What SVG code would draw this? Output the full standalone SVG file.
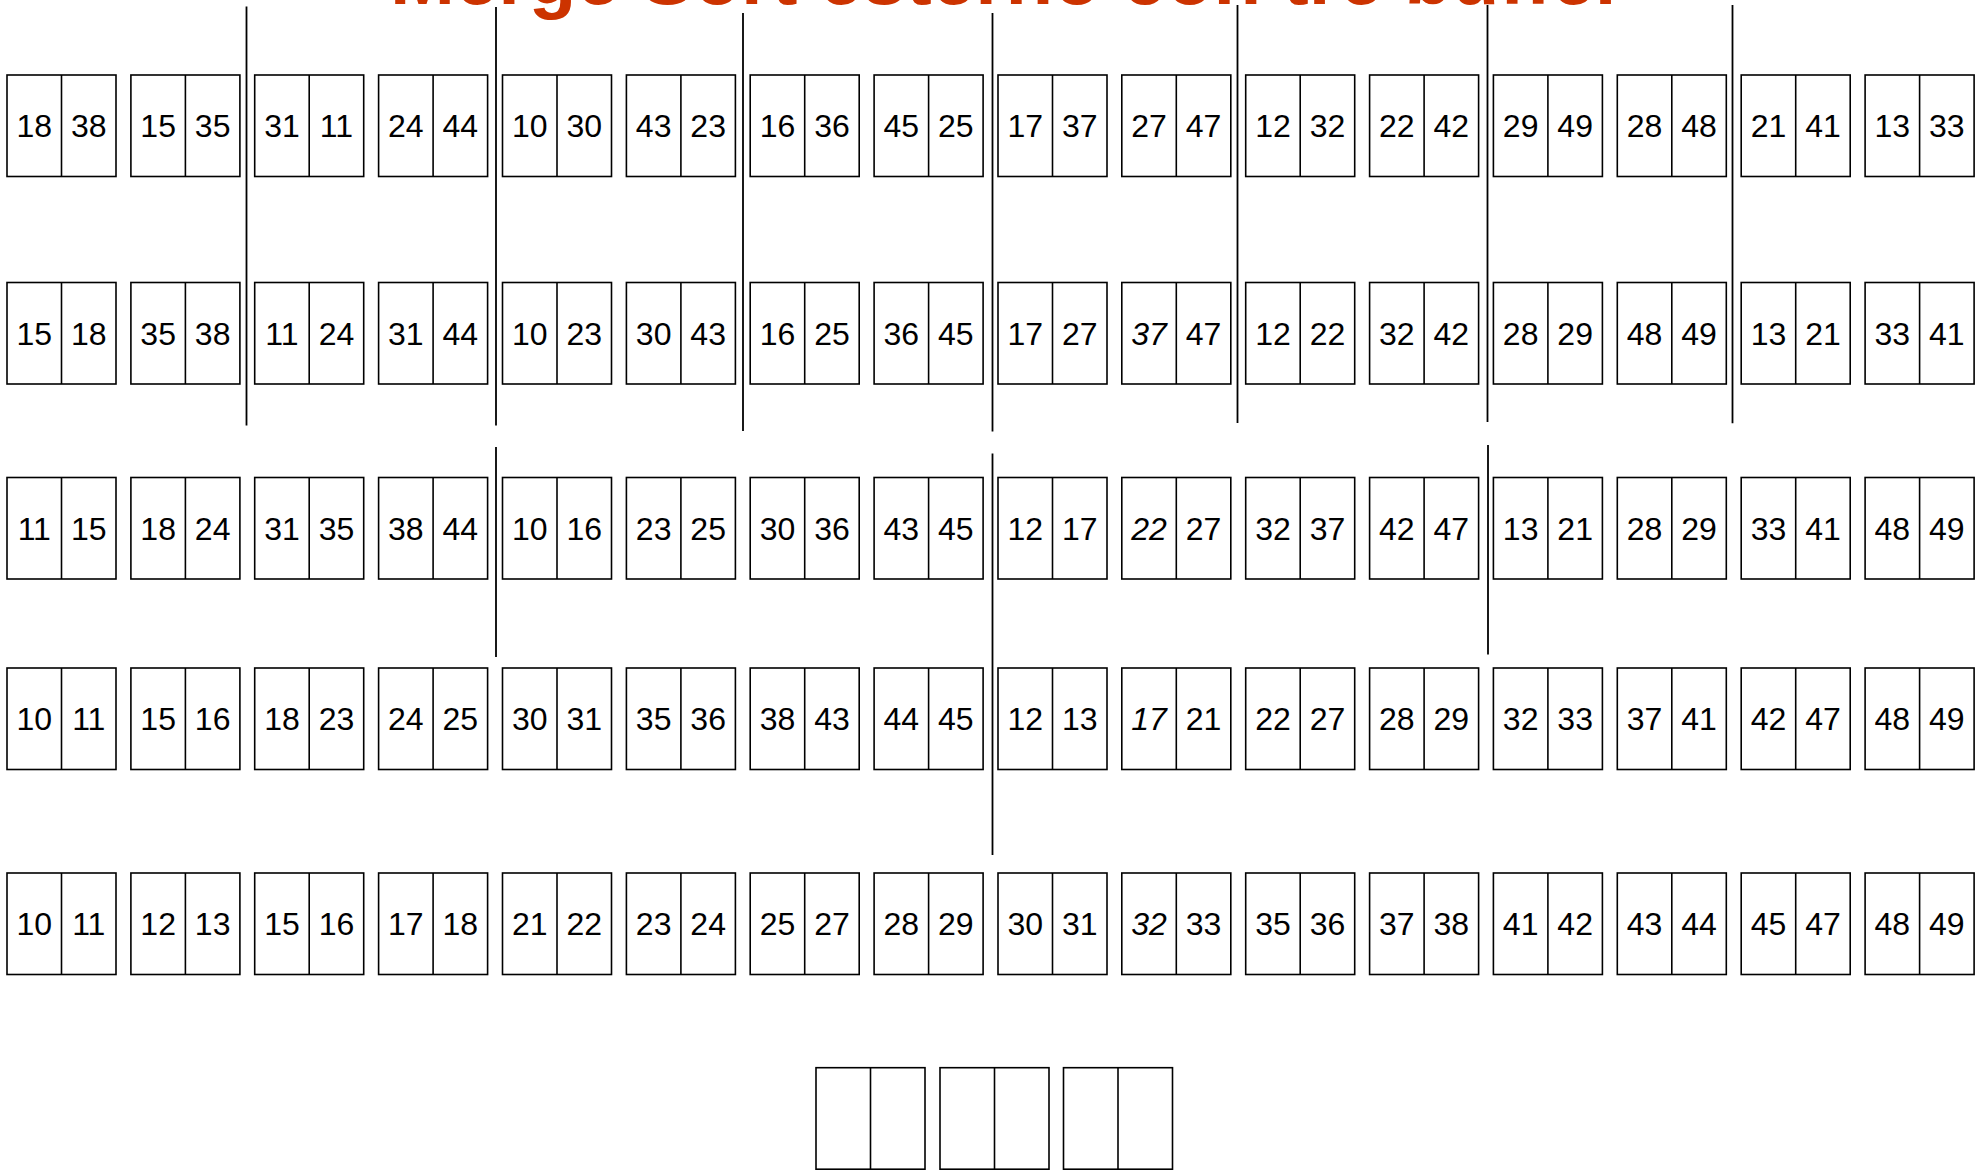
<svg xmlns="http://www.w3.org/2000/svg" xmlns:xlink="http://www.w3.org/1999/xlink" width="1981" height="1170" viewBox="0 0 1981 1170">
<style>
.f{fill:#fff;stroke:#000;stroke-width:1.6}
.d{stroke:#000;stroke-width:1.6}
.t{font-family:"Liberation Sans",Arial,sans-serif;font-size:32px;fill:#000;text-anchor:middle}
.i{font-style:italic}
.sep{stroke:#000;stroke-width:1.8;fill:none}
.title{font-family:"Liberation Sans",Arial,sans-serif;font-size:78px;font-weight:bold;fill:#CC3300}
</style>
<defs>
<g id="frame"><rect class="f" x="0" y="0" width="109" height="101.5"/><line class="d" x1="54.5" y1="0" x2="54.5" y2="101.5"/></g>
</defs>
<rect x="0" y="0" width="1981" height="1170" fill="#fff"/>
<text id="title" class="title" x="390" y="4">Merge Sort esterno con tre buffer</text>

<g id="connectors">
<line class="sep" x1="246.5" y1="6.5" x2="246.5" y2="425.5"/>
<line class="sep" x1="496" y1="7" x2="496" y2="425.5"/>
<line class="sep" x1="743" y1="13" x2="743" y2="431"/>
<line class="sep" x1="992.5" y1="13" x2="992.5" y2="431.5"/>
<line class="sep" x1="1237.5" y1="5" x2="1237.5" y2="423"/>
<line class="sep" x1="1487.5" y1="5" x2="1487.5" y2="422"/>
<line class="sep" x1="1732.5" y1="5" x2="1732.5" y2="423.3"/>
<line class="sep" x1="496" y1="447" x2="496" y2="657"/>
<line class="sep" x1="992.5" y1="453.5" x2="992.5" y2="855"/>
<line class="sep" x1="1488" y1="445" x2="1488" y2="654.5"/>
</g>

<!-- Row 1 -->
<g id="r1b1" transform="translate(7,75)"><use xlink:href="#frame"/><text class="t" x="27.25" y="62">18</text><text class="t" x="81.75" y="62">38</text></g>
<g id="r1b2" transform="translate(130.9,75)"><use xlink:href="#frame"/><text class="t" x="27.25" y="62">15</text><text class="t" x="81.75" y="62">35</text></g>
<g id="r1b3" transform="translate(254.7,75)"><use xlink:href="#frame"/><text class="t" x="27.25" y="62">31</text><text class="t" x="81.75" y="62">11</text></g>
<g id="r1b4" transform="translate(378.6,75)"><use xlink:href="#frame"/><text class="t" x="27.25" y="62">24</text><text class="t" x="81.75" y="62">44</text></g>
<g id="r1b5" transform="translate(502.5,75)"><use xlink:href="#frame"/><text class="t" x="27.25" y="62">10</text><text class="t" x="81.75" y="62">30</text></g>
<g id="r1b6" transform="translate(626.4,75)"><use xlink:href="#frame"/><text class="t" x="27.25" y="62">43</text><text class="t" x="81.75" y="62">23</text></g>
<g id="r1b7" transform="translate(750.2,75)"><use xlink:href="#frame"/><text class="t" x="27.25" y="62">16</text><text class="t" x="81.75" y="62">36</text></g>
<g id="r1b8" transform="translate(874.1,75)"><use xlink:href="#frame"/><text class="t" x="27.25" y="62">45</text><text class="t" x="81.75" y="62">25</text></g>
<g id="r1b9" transform="translate(998,75)"><use xlink:href="#frame"/><text class="t" x="27.25" y="62">17</text><text class="t" x="81.75" y="62">37</text></g>
<g id="r1b10" transform="translate(1121.8,75)"><use xlink:href="#frame"/><text class="t" x="27.25" y="62">27</text><text class="t" x="81.75" y="62">47</text></g>
<g id="r1b11" transform="translate(1245.7,75)"><use xlink:href="#frame"/><text class="t" x="27.25" y="62">12</text><text class="t" x="81.75" y="62">32</text></g>
<g id="r1b12" transform="translate(1369.6,75)"><use xlink:href="#frame"/><text class="t" x="27.25" y="62">22</text><text class="t" x="81.75" y="62">42</text></g>
<g id="r1b13" transform="translate(1493.4,75)"><use xlink:href="#frame"/><text class="t" x="27.25" y="62">29</text><text class="t" x="81.75" y="62">49</text></g>
<g id="r1b14" transform="translate(1617.3,75)"><use xlink:href="#frame"/><text class="t" x="27.25" y="62">28</text><text class="t" x="81.75" y="62">48</text></g>
<g id="r1b15" transform="translate(1741.2,75)"><use xlink:href="#frame"/><text class="t" x="27.25" y="62">21</text><text class="t" x="81.75" y="62">41</text></g>
<g id="r1b16" transform="translate(1865.1,75)"><use xlink:href="#frame"/><text class="t" x="27.25" y="62">13</text><text class="t" x="81.75" y="62">33</text></g>

<!-- Row 2 -->
<g id="r2b1" transform="translate(7,282.5)"><use xlink:href="#frame"/><text class="t" x="27.25" y="62">15</text><text class="t" x="81.75" y="62">18</text></g>
<g id="r2b2" transform="translate(130.9,282.5)"><use xlink:href="#frame"/><text class="t" x="27.25" y="62">35</text><text class="t" x="81.75" y="62">38</text></g>
<g id="r2b3" transform="translate(254.7,282.5)"><use xlink:href="#frame"/><text class="t" x="27.25" y="62">11</text><text class="t" x="81.75" y="62">24</text></g>
<g id="r2b4" transform="translate(378.6,282.5)"><use xlink:href="#frame"/><text class="t" x="27.25" y="62">31</text><text class="t" x="81.75" y="62">44</text></g>
<g id="r2b5" transform="translate(502.5,282.5)"><use xlink:href="#frame"/><text class="t" x="27.25" y="62">10</text><text class="t" x="81.75" y="62">23</text></g>
<g id="r2b6" transform="translate(626.4,282.5)"><use xlink:href="#frame"/><text class="t" x="27.25" y="62">30</text><text class="t" x="81.75" y="62">43</text></g>
<g id="r2b7" transform="translate(750.2,282.5)"><use xlink:href="#frame"/><text class="t" x="27.25" y="62">16</text><text class="t" x="81.75" y="62">25</text></g>
<g id="r2b8" transform="translate(874.1,282.5)"><use xlink:href="#frame"/><text class="t" x="27.25" y="62">36</text><text class="t" x="81.75" y="62">45</text></g>
<g id="r2b9" transform="translate(998,282.5)"><use xlink:href="#frame"/><text class="t" x="27.25" y="62">17</text><text class="t" x="81.75" y="62">27</text></g>
<g id="r2b10" transform="translate(1121.8,282.5)"><use xlink:href="#frame"/><text class="t i" x="27.25" y="62">37</text><text class="t" x="81.75" y="62">47</text></g>
<g id="r2b11" transform="translate(1245.7,282.5)"><use xlink:href="#frame"/><text class="t" x="27.25" y="62">12</text><text class="t" x="81.75" y="62">22</text></g>
<g id="r2b12" transform="translate(1369.6,282.5)"><use xlink:href="#frame"/><text class="t" x="27.25" y="62">32</text><text class="t" x="81.75" y="62">42</text></g>
<g id="r2b13" transform="translate(1493.4,282.5)"><use xlink:href="#frame"/><text class="t" x="27.25" y="62">28</text><text class="t" x="81.75" y="62">29</text></g>
<g id="r2b14" transform="translate(1617.3,282.5)"><use xlink:href="#frame"/><text class="t" x="27.25" y="62">48</text><text class="t" x="81.75" y="62">49</text></g>
<g id="r2b15" transform="translate(1741.2,282.5)"><use xlink:href="#frame"/><text class="t" x="27.25" y="62">13</text><text class="t" x="81.75" y="62">21</text></g>
<g id="r2b16" transform="translate(1865.1,282.5)"><use xlink:href="#frame"/><text class="t" x="27.25" y="62">33</text><text class="t" x="81.75" y="62">41</text></g>

<!-- Row 3 -->
<g id="r3b1" transform="translate(7,477.5)"><use xlink:href="#frame"/><text class="t" x="27.25" y="62">11</text><text class="t" x="81.75" y="62">15</text></g>
<g id="r3b2" transform="translate(130.9,477.5)"><use xlink:href="#frame"/><text class="t" x="27.25" y="62">18</text><text class="t" x="81.75" y="62">24</text></g>
<g id="r3b3" transform="translate(254.7,477.5)"><use xlink:href="#frame"/><text class="t" x="27.25" y="62">31</text><text class="t" x="81.75" y="62">35</text></g>
<g id="r3b4" transform="translate(378.6,477.5)"><use xlink:href="#frame"/><text class="t" x="27.25" y="62">38</text><text class="t" x="81.75" y="62">44</text></g>
<g id="r3b5" transform="translate(502.5,477.5)"><use xlink:href="#frame"/><text class="t" x="27.25" y="62">10</text><text class="t" x="81.75" y="62">16</text></g>
<g id="r3b6" transform="translate(626.4,477.5)"><use xlink:href="#frame"/><text class="t" x="27.25" y="62">23</text><text class="t" x="81.75" y="62">25</text></g>
<g id="r3b7" transform="translate(750.2,477.5)"><use xlink:href="#frame"/><text class="t" x="27.25" y="62">30</text><text class="t" x="81.75" y="62">36</text></g>
<g id="r3b8" transform="translate(874.1,477.5)"><use xlink:href="#frame"/><text class="t" x="27.25" y="62">43</text><text class="t" x="81.75" y="62">45</text></g>
<g id="r3b9" transform="translate(998,477.5)"><use xlink:href="#frame"/><text class="t" x="27.25" y="62">12</text><text class="t" x="81.75" y="62">17</text></g>
<g id="r3b10" transform="translate(1121.8,477.5)"><use xlink:href="#frame"/><text class="t i" x="27.25" y="62">22</text><text class="t" x="81.75" y="62">27</text></g>
<g id="r3b11" transform="translate(1245.7,477.5)"><use xlink:href="#frame"/><text class="t" x="27.25" y="62">32</text><text class="t" x="81.75" y="62">37</text></g>
<g id="r3b12" transform="translate(1369.6,477.5)"><use xlink:href="#frame"/><text class="t" x="27.25" y="62">42</text><text class="t" x="81.75" y="62">47</text></g>
<g id="r3b13" transform="translate(1493.4,477.5)"><use xlink:href="#frame"/><text class="t" x="27.25" y="62">13</text><text class="t" x="81.75" y="62">21</text></g>
<g id="r3b14" transform="translate(1617.3,477.5)"><use xlink:href="#frame"/><text class="t" x="27.25" y="62">28</text><text class="t" x="81.75" y="62">29</text></g>
<g id="r3b15" transform="translate(1741.2,477.5)"><use xlink:href="#frame"/><text class="t" x="27.25" y="62">33</text><text class="t" x="81.75" y="62">41</text></g>
<g id="r3b16" transform="translate(1865.1,477.5)"><use xlink:href="#frame"/><text class="t" x="27.25" y="62">48</text><text class="t" x="81.75" y="62">49</text></g>

<!-- Row 4 -->
<g id="r4b1" transform="translate(7,668)"><use xlink:href="#frame"/><text class="t" x="27.25" y="62">10</text><text class="t" x="81.75" y="62">11</text></g>
<g id="r4b2" transform="translate(130.9,668)"><use xlink:href="#frame"/><text class="t" x="27.25" y="62">15</text><text class="t" x="81.75" y="62">16</text></g>
<g id="r4b3" transform="translate(254.7,668)"><use xlink:href="#frame"/><text class="t" x="27.25" y="62">18</text><text class="t" x="81.75" y="62">23</text></g>
<g id="r4b4" transform="translate(378.6,668)"><use xlink:href="#frame"/><text class="t" x="27.25" y="62">24</text><text class="t" x="81.75" y="62">25</text></g>
<g id="r4b5" transform="translate(502.5,668)"><use xlink:href="#frame"/><text class="t" x="27.25" y="62">30</text><text class="t" x="81.75" y="62">31</text></g>
<g id="r4b6" transform="translate(626.4,668)"><use xlink:href="#frame"/><text class="t" x="27.25" y="62">35</text><text class="t" x="81.75" y="62">36</text></g>
<g id="r4b7" transform="translate(750.2,668)"><use xlink:href="#frame"/><text class="t" x="27.25" y="62">38</text><text class="t" x="81.75" y="62">43</text></g>
<g id="r4b8" transform="translate(874.1,668)"><use xlink:href="#frame"/><text class="t" x="27.25" y="62">44</text><text class="t" x="81.75" y="62">45</text></g>
<g id="r4b9" transform="translate(998,668)"><use xlink:href="#frame"/><text class="t" x="27.25" y="62">12</text><text class="t" x="81.75" y="62">13</text></g>
<g id="r4b10" transform="translate(1121.8,668)"><use xlink:href="#frame"/><text class="t i" x="27.25" y="62">17</text><text class="t" x="81.75" y="62">21</text></g>
<g id="r4b11" transform="translate(1245.7,668)"><use xlink:href="#frame"/><text class="t" x="27.25" y="62">22</text><text class="t" x="81.75" y="62">27</text></g>
<g id="r4b12" transform="translate(1369.6,668)"><use xlink:href="#frame"/><text class="t" x="27.25" y="62">28</text><text class="t" x="81.75" y="62">29</text></g>
<g id="r4b13" transform="translate(1493.4,668)"><use xlink:href="#frame"/><text class="t" x="27.25" y="62">32</text><text class="t" x="81.75" y="62">33</text></g>
<g id="r4b14" transform="translate(1617.3,668)"><use xlink:href="#frame"/><text class="t" x="27.25" y="62">37</text><text class="t" x="81.75" y="62">41</text></g>
<g id="r4b15" transform="translate(1741.2,668)"><use xlink:href="#frame"/><text class="t" x="27.25" y="62">42</text><text class="t" x="81.75" y="62">47</text></g>
<g id="r4b16" transform="translate(1865.1,668)"><use xlink:href="#frame"/><text class="t" x="27.25" y="62">48</text><text class="t" x="81.75" y="62">49</text></g>

<!-- Row 5 -->
<g id="r5b1" transform="translate(7,873)"><use xlink:href="#frame"/><text class="t" x="27.25" y="62">10</text><text class="t" x="81.75" y="62">11</text></g>
<g id="r5b2" transform="translate(130.9,873)"><use xlink:href="#frame"/><text class="t" x="27.25" y="62">12</text><text class="t" x="81.75" y="62">13</text></g>
<g id="r5b3" transform="translate(254.7,873)"><use xlink:href="#frame"/><text class="t" x="27.25" y="62">15</text><text class="t" x="81.75" y="62">16</text></g>
<g id="r5b4" transform="translate(378.6,873)"><use xlink:href="#frame"/><text class="t" x="27.25" y="62">17</text><text class="t" x="81.75" y="62">18</text></g>
<g id="r5b5" transform="translate(502.5,873)"><use xlink:href="#frame"/><text class="t" x="27.25" y="62">21</text><text class="t" x="81.75" y="62">22</text></g>
<g id="r5b6" transform="translate(626.4,873)"><use xlink:href="#frame"/><text class="t" x="27.25" y="62">23</text><text class="t" x="81.75" y="62">24</text></g>
<g id="r5b7" transform="translate(750.2,873)"><use xlink:href="#frame"/><text class="t" x="27.25" y="62">25</text><text class="t" x="81.75" y="62">27</text></g>
<g id="r5b8" transform="translate(874.1,873)"><use xlink:href="#frame"/><text class="t" x="27.25" y="62">28</text><text class="t" x="81.75" y="62">29</text></g>
<g id="r5b9" transform="translate(998,873)"><use xlink:href="#frame"/><text class="t" x="27.25" y="62">30</text><text class="t" x="81.75" y="62">31</text></g>
<g id="r5b10" transform="translate(1121.8,873)"><use xlink:href="#frame"/><text class="t i" x="27.25" y="62">32</text><text class="t" x="81.75" y="62">33</text></g>
<g id="r5b11" transform="translate(1245.7,873)"><use xlink:href="#frame"/><text class="t" x="27.25" y="62">35</text><text class="t" x="81.75" y="62">36</text></g>
<g id="r5b12" transform="translate(1369.6,873)"><use xlink:href="#frame"/><text class="t" x="27.25" y="62">37</text><text class="t" x="81.75" y="62">38</text></g>
<g id="r5b13" transform="translate(1493.4,873)"><use xlink:href="#frame"/><text class="t" x="27.25" y="62">41</text><text class="t" x="81.75" y="62">42</text></g>
<g id="r5b14" transform="translate(1617.3,873)"><use xlink:href="#frame"/><text class="t" x="27.25" y="62">43</text><text class="t" x="81.75" y="62">44</text></g>
<g id="r5b15" transform="translate(1741.2,873)"><use xlink:href="#frame"/><text class="t" x="27.25" y="62">45</text><text class="t" x="81.75" y="62">47</text></g>
<g id="r5b16" transform="translate(1865.1,873)"><use xlink:href="#frame"/><text class="t" x="27.25" y="62">48</text><text class="t" x="81.75" y="62">49</text></g>

<!-- Buffers -->
<g id="buf1" transform="translate(816,1067.7)"><use xlink:href="#frame"/></g>
<g id="buf2" transform="translate(940,1067.7)"><use xlink:href="#frame"/></g>
<g id="buf3" transform="translate(1063.5,1067.7)"><use xlink:href="#frame"/></g>
</svg>
